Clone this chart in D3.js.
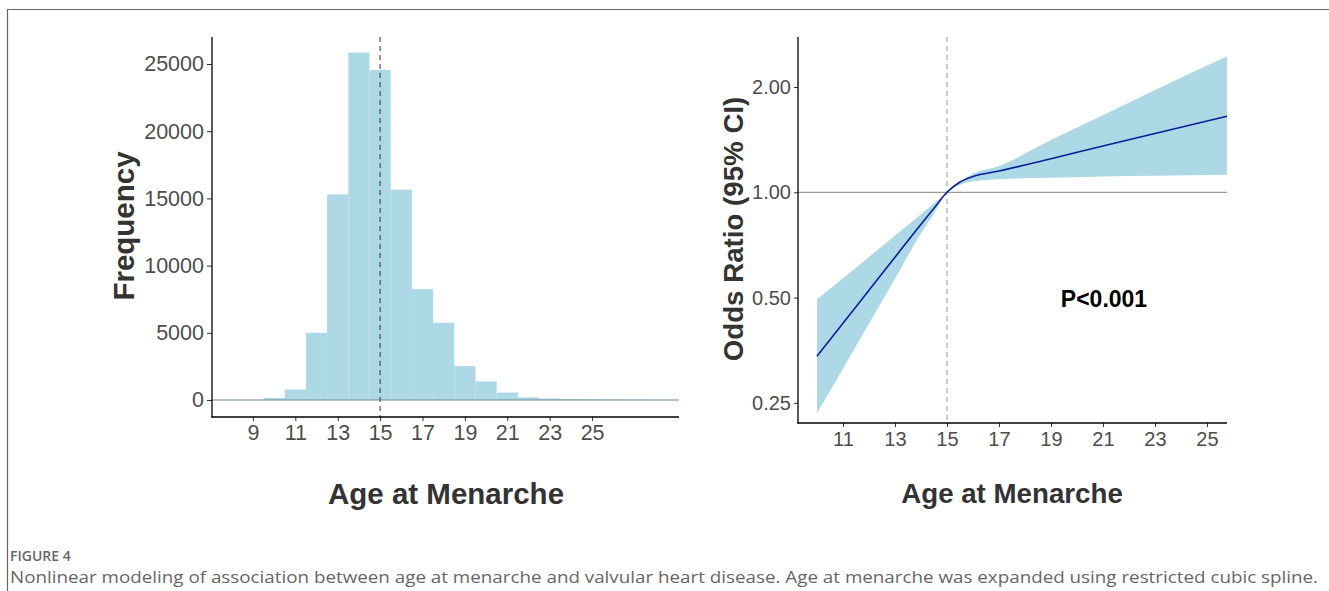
<!DOCTYPE html>
<html>
<head>
<meta charset="utf-8">
<script src="https://d3js.org/d3.v7.min.js"></script>
<style>
  html, body { margin: 0; padding: 0; background: #fff; }
  svg { display: block; }
</style>
</head>
<body>
<div id="chart"></div>
<script>
// ---- data ----
// histogram: bin centres (width 1) and counts
const ageBins = [10, 11, 12, 13, 14, 15, 16, 17, 18, 19, 20, 21, 22, 23, 24, 25, 26, 27, 28, 29];
const ageCounts = [150, 780, 5000, 15300, 25850, 24550, 15650, 8250, 5750, 2520, 1380, 550, 200, 110, 70, 50, 30, 20, 12, 8];
const histTicksX = [9, 11, 13, 15, 17, 19, 21, 23, 25];
const histTicksY = [0, 5000, 10000, 15000, 20000, 25000];

// spline: age, odds ratio, 95% CI
const splineAge = [10, 11, 12, 13, 14, 14.5, 15, 15.5, 16, 17, 19, 21, 23, 25.77];
const splineOR = [0.34, 0.422, 0.525, 0.652, 0.81, 0.90, 1.00, 1.07, 1.11, 1.15, 1.248, 1.356, 1.472, 1.65];
const splineUpper = [0.495, 0.568, 0.653, 0.753, 0.866, 0.93, 1.00, 1.075, 1.13, 1.19, 1.41, 1.66, 1.96, 2.45];
const splineLower = [0.234, 0.313, 0.421, 0.566, 0.764, 0.87, 1.00, 1.05, 1.075, 1.09, 1.10, 1.11, 1.115, 1.123];
const splineTicksX = [11, 13, 15, 17, 19, 21, 23, 25];
const splineTicksY = [0.25, 0.5, 1, 2];

const refAge = 15;
const fillBlue = '#ADD8E6';
const font = '"Liberation Sans", Arial, sans-serif';

const W = 1329, H = 591;
const svg = d3.select('#chart').append('svg')
  .attr('width', W).attr('height', H);

// page frame
svg.append('path')
  .attr('d', `M7.5,${H} V9.5 H${W}`)
  .attr('fill', 'none')
  .attr('stroke', '#666')
  .attr('stroke-width', 1.2);

// axis helper: ticks only, own axis line
const styleAxis = (size) => (g) => {
  g.select('.domain').remove();
  g.selectAll('.tick line').attr('stroke', '#333').attr('stroke-width', 1);
  g.selectAll('.tick text')
    .attr('fill', '#4d4d4d')
    .style('font-family', font)
    .style('font-size', size + 'px');
};

const axisLine = (x1, y1, x2, y2) => svg.append('line')
  .attr('x1', x1).attr('y1', y1).attr('x2', x2).attr('y2', y2)
  .attr('stroke', '#000').attr('stroke-width', 1.3);

// =========================================
// left panel: histogram
// =========================================
const hx = d3.scaleLinear().domain([7.07, 29.1]).range([212, 679]);
const hy = d3.scaleLinear().domain([-1265, 27010]).range([417, 37]);

svg.append('clipPath').attr('id', 'clipL')
  .append('rect').attr('x', 212).attr('y', 37).attr('width', 467).attr('height', 380);

const hist = svg.append('g').attr('clip-path', 'url(#clipL)');

hist.selectAll('rect.bar')
  .data(ageBins.map((b, i) => ({ b, n: ageCounts[i] })))
  .enter().append('rect')
  .attr('class', 'bar')
  .attr('x', d => hx(d.b - 0.5))
  .attr('width', d => hx(d.b + 0.5) - hx(d.b - 0.5))
  .attr('y', d => hy(d.n))
  .attr('height', d => hy(0) - hy(d.n))
  .attr('fill', fillBlue);

hist.append('line')
  .attr('x1', 212).attr('x2', 679)
  .attr('y1', hy(0)).attr('y2', hy(0))
  .attr('stroke', '#6f8a94').attr('stroke-width', 1.1);

hist.append('line')
  .attr('x1', hx(refAge)).attr('x2', hx(refAge))
  .attr('y1', 37).attr('y2', 417)
  .attr('stroke', '#333').attr('stroke-width', 1)
  .attr('stroke-dasharray', '5,4');

svg.append('g')
  .attr('transform', 'translate(0,417)')
  .call(d3.axisBottom(hx).tickValues(histTicksX).tickSizeOuter(0).tickSizeInner(4).tickPadding(4))
  .call(styleAxis(21.5));

svg.append('g')
  .attr('transform', 'translate(212,0)')
  .call(d3.axisLeft(hy).tickValues(histTicksY).tickFormat(d3.format('d')).tickSizeOuter(0).tickSizeInner(5).tickPadding(3))
  .call(styleAxis(21.5));

axisLine(212, 37, 212, 417.6);
axisLine(211.4, 417, 679, 417);

// =========================================
// right panel: restricted cubic spline
// =========================================
const sx = d3.scaleLinear().domain([9.27, 25.77]).range([798, 1227]);
const sy = d3.scaleLog().base(2).domain([0.219, 2.78]).range([423, 37]);

const spline = splineAge.map((a, i) => ({
  a, or: splineOR[i], lo: splineLower[i], hi: splineUpper[i]
}));

svg.append('path')
  .datum(spline)
  .attr('d', d3.area()
    .x(d => sx(d.a))
    .y0(d => sy(d.lo))
    .y1(d => sy(d.hi))
    .curve(d3.curveMonotoneX))
  .attr('fill', fillBlue);

svg.append('line')
  .attr('x1', 798).attr('x2', 1227)
  .attr('y1', sy(1)).attr('y2', sy(1))
  .attr('stroke', '#9a9a9a').attr('stroke-width', 1.2);

svg.append('line')
  .attr('x1', sx(refAge)).attr('x2', sx(refAge))
  .attr('y1', 37).attr('y2', 423)
  .attr('stroke', '#9a9a9a').attr('stroke-width', 1)
  .attr('stroke-dasharray', '5,4');

svg.append('path')
  .datum(spline)
  .attr('d', d3.line()
    .x(d => sx(d.a))
    .y(d => sy(d.or))
    .curve(d3.curveMonotoneX))
  .attr('fill', 'none')
  .attr('stroke', '#0a1f99')
  .attr('stroke-width', 1.6);

svg.append('g')
  .attr('transform', 'translate(0,423)')
  .call(d3.axisBottom(sx).tickValues(splineTicksX).tickSizeOuter(0).tickSizeInner(4).tickPadding(5))
  .call(styleAxis(20));

svg.append('g')
  .attr('transform', 'translate(798,0)')
  .call(d3.axisLeft(sy).tickValues(splineTicksY).tickFormat(d3.format('.2f')).tickSizeOuter(0).tickSizeInner(4).tickPadding(3))
  .call(styleAxis(20));

axisLine(798, 37, 798, 423.6);
axisLine(797.4, 423, 1227, 423);

svg.append('text')
  .attr('x', 1104).attr('y', 307)
  .attr('text-anchor', 'middle')
  .style('font-family', font).style('font-size', '23px').style('font-weight', 'bold')
  .attr('fill', '#000')
  .text('P<0.001');

// axis titles
const title = (x, y, rot, size, txt) => svg.append('text')
  .attr('transform', `translate(${x},${y}) rotate(${rot})`)
  .attr('text-anchor', 'middle')
  .style('font-family', font).style('font-size', size + 'px').style('font-weight', 'bold')
  .attr('fill', '#333')
  .text(txt);

title(446, 504, 0, 29.5, 'Age at Menarche');
title(1012, 503, 0, 27.7, 'Age at Menarche');
title(134, 226, -90, 29.5, 'Frequency');
title(743, 229, -90, 27.7, 'Odds Ratio (95% CI)');

// caption
svg.append('text')
  .attr('x', 10).attr('y', 561)
  .style('font-family', '"Open Sans", sans-serif').style('font-size', '14px').style('font-weight', 600)
  .attr('fill', '#666')
  .text('FIGURE 4');

svg.append('text')
  .attr('x', 10).attr('y', 583)
  .attr('textLength', 1308).attr('lengthAdjust', 'spacingAndGlyphs')
  .style('font-family', '"Open Sans", sans-serif').style('font-size', '16.5px')
  .attr('fill', '#666')
  .text('Nonlinear modeling of association between age at menarche and valvular heart disease. Age at menarche was expanded using restricted cubic spline.');
</script>
</body>
</html>
